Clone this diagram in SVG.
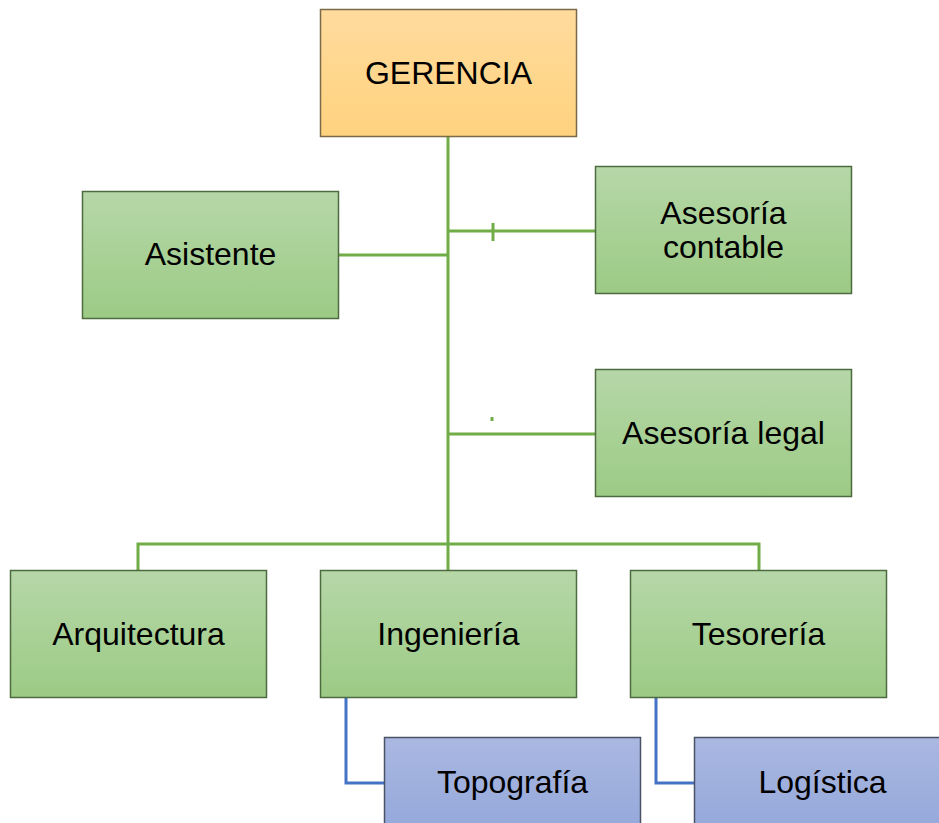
<svg xmlns="http://www.w3.org/2000/svg" width="939" height="823" viewBox="0 0 939 823">
<defs>
<linearGradient id="gOrange" x1="0" y1="0" x2="0" y2="1"><stop offset="0" stop-color="#FFDB9D"/><stop offset="1" stop-color="#FFD27E"/></linearGradient>
<linearGradient id="gGreen" x1="0" y1="0" x2="0" y2="1"><stop offset="0" stop-color="#B6D7A8"/><stop offset="1" stop-color="#9CCB85"/></linearGradient>
<linearGradient id="gBlue" x1="0" y1="0" x2="0" y2="1"><stop offset="0" stop-color="#AAB8E1"/><stop offset="1" stop-color="#8CA2D8"/></linearGradient>
<style>
.box rect{stroke:#6b6b5a;stroke-width:1.5}
.o rect{fill:url(#gOrange);stroke:#7a6a4a}
.g rect{fill:url(#gGreen);stroke:#4e6b40}
.b rect{fill:url(#gBlue);stroke:#4a5266}
text{font-family:"Liberation Sans",Arial,sans-serif;font-size:32px;fill:#000;text-anchor:middle}
.cg{stroke:#70AD47;stroke-width:3;fill:none}
.cb{stroke:#4472C4;stroke-width:3;fill:none}
</style>
</defs>
<g id="connectors">
<path class="cg" d="M448 137V570"/>
<path class="cg" d="M339 255H448"/>
<path class="cg" d="M448 231H595"/>
<path class="cg" d="M493 223V241" stroke-width="2.5"/>
<path class="cg" d="M448 434H595"/>
<path class="cg" d="M492 417V421" stroke-width="1.5"/>
<path class="cg" d="M138 570V544H759V570"/>
<path class="cb" d="M346 698V783H384"/>
<path class="cb" d="M656 698V783H694"/>
</g>
<g id="gerencia" class="box o"><rect x="320.5" y="9.5" width="256" height="127"/><text x="448.5" y="84">GERENCIA</text></g>
<g id="asistente" class="box g"><rect x="82.5" y="191.5" width="256" height="127"/><text x="210.5" y="265">Asistente</text></g>
<g id="asesoria-contable" class="box g"><rect x="595.5" y="166.5" width="256" height="127"/><text x="723.5" y="224">Asesoría</text><text x="723.5" y="258">contable</text></g>
<g id="asesoria-legal" class="box g"><rect x="595.5" y="369.5" width="256" height="127"/><text x="723.5" y="444">Asesoría legal</text></g>
<g id="arquitectura" class="box g"><rect x="10.5" y="570.5" width="256" height="127"/><text x="138.5" y="645">Arquitectura</text></g>
<g id="ingenieria" class="box g"><rect x="320.5" y="570.5" width="256" height="127"/><text x="448.5" y="645">Ingeniería</text></g>
<g id="tesoreria" class="box g"><rect x="630.5" y="570.5" width="256" height="127"/><text x="758.5" y="645">Tesorería</text></g>
<g id="topografia" class="box b"><rect x="384.5" y="737.5" width="256" height="127"/><text x="512.5" y="793">Topografía</text></g>
<g id="logistica" class="box b"><rect x="694.5" y="737.5" width="256" height="127"/><text x="822.5" y="793">Logística</text></g>
</svg>
